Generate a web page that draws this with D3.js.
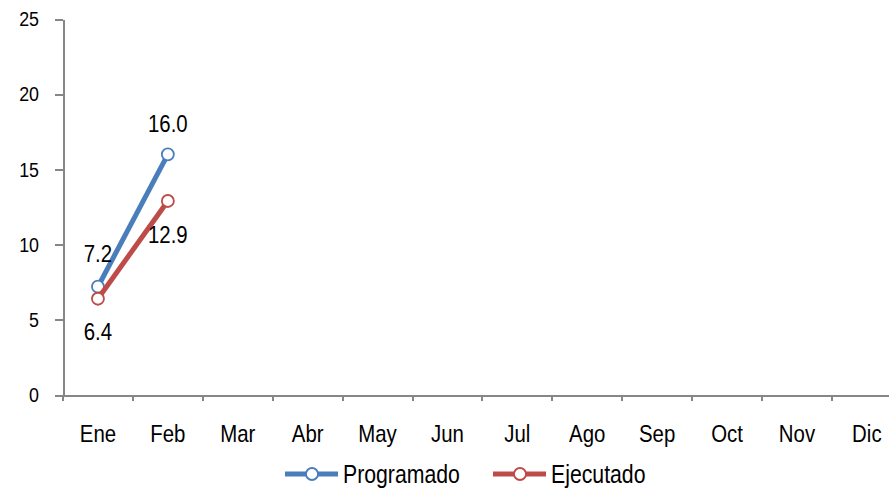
<!DOCTYPE html>
<html>
<head>
<style>
body { margin: 0; background: #fff; }
svg { font-family: "Liberation Sans", Arial, sans-serif; font-size: 24px; }
.axis path, .axis line { stroke: #868686; stroke-width: 2; fill: none; shape-rendering: crispEdges; }
.axis text { fill: #000; font-family: "Liberation Sans", Arial, sans-serif; }
</style>
</head>
<body>
<script src="https://d3js.org/d3.v7.min.js"></script>
<script>
var months = ["Ene", "Feb", "Mar", "Abr", "May", "Jun", "Jul", "Ago", "Sep", "Oct", "Nov", "Dic"];
var programado = [7.2, 16.0];
var ejecutado = [6.4, 12.9];
var yTicks = [0, 5, 10, 15, 20, 25];

var width = 889, height = 493;
var margin = {top: 19, left: 63};
var narrow = 0.85; // fake a narrow face, no Arial Narrow here

var svg = d3.select("body").append("svg")
  .attr("width", width).attr("height", height);

var x = d3.scaleBand().domain(months).range([margin.left, margin.left + 12 * 69.9]);
var y = d3.scaleLinear().domain([0, 25]).range([395, margin.top]);

// y axis
var yAxis = svg.append("g").attr("class", "axis")
  .attr("transform", "translate(" + margin.left + ",0)")
  .call(d3.axisLeft(y).tickValues(yTicks).tickSize(8).tickSizeOuter(0));
yAxis.attr("font-family", null).attr("font-size", null);
yAxis.selectAll("text")
  .attr("x", -24 / narrow)
  .attr("transform", "scale(" + narrow + ",1)")
  .style("font-size", "21px");

// x axis, ticks between categories
var xAxisG = svg.append("g").attr("class", "axis")
  .attr("transform", "translate(0," + y(0) + ")")
  .call(d3.axisBottom(x).tickSize(0).tickPadding(30));
xAxisG.attr("font-family", null).attr("font-size", null);
xAxisG.selectAll(".tick line").remove();
xAxisG.selectAll("text")
  .attr("transform", "scale(" + narrow + ",1)")
  .style("font-size", "24px");
xAxisG.selectAll(".bound")
  .data(d3.range(13))
  .enter().append("line")
  .attr("x1", d => margin.left + d * x.step())
  .attr("x2", d => margin.left + d * x.step())
  .attr("y1", 0).attr("y2", 6);

var series = [
  {name: "Programado", values: programado, color: "#4a7ebb", offsets: [-33, -31]},
  {name: "Ejecutado", values: ejecutado, color: "#be4b48", offsets: [33, 34]}
];

var cx = (d, i) => x(months[i]) + x.bandwidth() / 2;

var line = d3.line()
  .x(cx)
  .y(d => y(d));

series.forEach(function(s) {
  svg.append("path")
    .attr("d", line(s.values))
    .attr("fill", "none")
    .attr("stroke", s.color)
    .attr("stroke-width", 5);
  svg.selectAll(null).data(s.values).enter().append("circle")
    .attr("cx", cx)
    .attr("cy", d => y(d))
    .attr("r", 6)
    .attr("fill", "#fff")
    .attr("stroke", s.color)
    .attr("stroke-width", 1.8);
  svg.selectAll(null).data(s.values).enter().append("text")
    .attr("transform", (d, i) => "translate(" + cx(d, i) + "," + (y(d) + s.offsets[i]) + ") scale(" + narrow + ",1)")
    .attr("dy", "0.35em")
    .attr("text-anchor", "middle")
    .text(d => d.toFixed(1));
});

// legend
var legendItems = [
  {name: "Programado", color: "#4a7ebb", x: 285},
  {name: "Ejecutado", color: "#be4b48", x: 493}
];
var lg = svg.selectAll(".legend").data(legendItems).enter().append("g")
  .attr("transform", d => "translate(" + d.x + ",474)");
lg.append("line").attr("x1", 0).attr("x2", 53).attr("y1", 0).attr("y2", 0)
  .attr("stroke", d => d.color).attr("stroke-width", 5);
lg.append("circle").attr("cx", 27).attr("cy", 0).attr("r", 6)
  .attr("fill", "#fff").attr("stroke", d => d.color).attr("stroke-width", 1.8);
lg.append("text")
  .attr("transform", "translate(58,0) scale(" + narrow + ",1)")
  .attr("dy", "0.35em")
  .style("font-size", "25px")
  .text(d => d.name);
</script>
</body>
</html>
